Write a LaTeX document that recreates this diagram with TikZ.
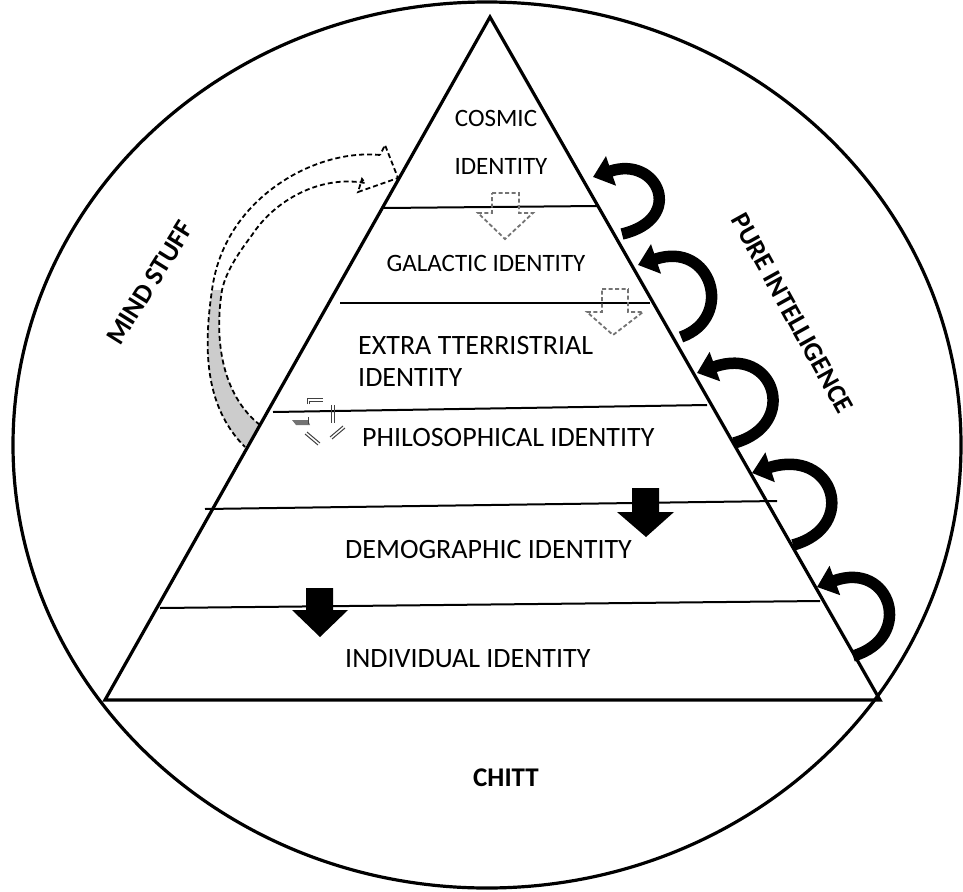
\documentclass[tikz,border=0pt]{standalone}
\usepackage{fontspec}
\setmainfont{Carlito}
\usetikzlibrary{arrows.meta}
\begin{document}
\begin{tikzpicture}[x=1pt,y=-1pt,
  edge/.style={line width=3.2pt},
  tier/.style={line width=2pt},
  lbl/.style={font=\fontsize{28}{30}\selectfont, inner sep=0pt},
  lbltop/.style={font=\fontsize{25}{27}\selectfont, inner sep=0pt},
  boldlbl/.style={font=\fontsize{27}{29}\selectfont\bfseries, inner sep=0pt},
  curv/.style={line width=11.5pt, -{Triangle[width=30pt,length=19pt]}},
  dsh/.style={draw=black!55, line width=1.8pt, dash pattern=on 4pt off 2.5pt},
  bigdash/.style={draw=black, line width=1.8pt, dash pattern=on 5pt off 3pt},
  frag/.style={draw=black!75, line width=1pt}
]
\useasboundingbox (0,0) rectangle (963,891);
\fill[white] (0,0) rectangle (963,891);

% outer circle
\draw[edge] (487,445) ellipse [x radius=474, y radius=443];

% big dashed curved arrow (left)
\fill[black!20] (212,290) .. controls (204,345) and (203,405) .. (245,447) -- (260,425)
  .. controls (222,395) and (214,340) .. (222,290) -- cycle;
\draw[bigdash] (380,155) .. controls (330,150) and (268,178) .. (235,228)
  .. controls (222,248) and (215,268) .. (212,290)
  .. controls (204,345) and (203,405) .. (245,447);
\draw[bigdash] (260,425) .. controls (222,395) and (214,340) .. (222,290)
  .. controls (226,272) and (237,255) .. (252,235)
  .. controls (275,200) and (320,175) .. (365,183)
  -- (362,179) -- (358,192) -- (398,178) -- (385,145) -- (380,155);

% pyramid
\coordinate (apex) at (490,17);
\coordinate (bl) at (105,700);
\coordinate (br) at (880,700);
\draw[edge, line join=miter] (bl) -- (apex) -- (br) -- cycle;

% tier lines
\draw[tier] (384,208) -- (597,206);
\draw[tier] (340,303) -- (650,303);
\draw[tier] (273,412) -- (707,405);
\draw[tier] (205,509) -- (777,501);
\draw[tier] (160,608) -- (820,601);

% labels
\node[lbltop] (cosmic) at (496,118) {COSMIC};
\node[lbltop] (cid) at (501,166) {IDENTITY};
\node[lbltop] (gal) at (486,263) {GALACTIC IDENTITY};
\node[lbl, anchor=west] (extra) at (358,346) {EXTRA TTERRISTRIAL};
\node[lbl, anchor=west] (eid) at (358,378) {IDENTITY};
\node[lbl, anchor=west] (phil) at (362,438) {PHILOSOPHICAL IDENTITY};
\node[lbl, anchor=west] (demo) at (345,550) {DEMOGRAPHIC IDENTITY};
\node[lbl, anchor=west] (indiv) at (345,659) {INDIVIDUAL IDENTITY};
\node[boldlbl] (chitt) at (506,778) {CHITT};
\node[boldlbl, rotate=58] (mind) at (150,283) {MIND STUFF};
\node[boldlbl, rotate=-61] (pure) at (792,313) {PURE INTELLIGENCE};

% curved black arrows on the right edge
\draw[curv] (622,234) .. controls (686,219) and (658,155) .. (593,177);
\draw[curv] (681,337) .. controls (735,318) and (712,240) .. (638,265);
\draw[curv] (734,443) .. controls (800,425) and (775,345) .. (697,373);
\draw[curv] (793,545) .. controls (859,527) and (834,447) .. (752,473);
\draw[curv] (853,656) .. controls (915,638) and (891,560) .. (817,587);

% dashed down arrows
\draw[dsh] (492,193) -- (519,193) -- (519,213) -- (533,213) -- (505,239) -- (478,213) -- (492,213) -- cycle;
\draw[dsh] (602,289) -- (628,289) -- (628,312) -- (643,312) -- (613,335) -- (587,312) -- (602,312) -- cycle;

% black down arrows
\fill (632,488) -- (659,488) -- (659,512) -- (674,512) -- (646,537) -- (617,512) -- (632,512) -- cycle;
\fill (306,588) -- (333,588) -- (333,610) -- (348,610) -- (320,637) -- (292,610) -- (306,610) -- cycle;

% fragments near philosophical
\draw[frag] (307,404) -- (307,398) -- (323,398);
\draw[frag] (309,404) -- (309,401) -- (323,401);
\draw[frag] (331,405) -- (331,423);
\draw[frag] (334,405) -- (334,423);
\fill[black!55] (292,420) -- (308,420) -- (310,425) -- (296,425) -- cycle;
\draw[frag] (308,417) -- (308,424);
\draw[frag] (307,432) -- (320,443);
\draw[frag] (305,434) -- (318,445);
\draw[frag] (330,437) -- (343,426);
\draw[frag] (332,439) -- (345,428);
\end{tikzpicture}
\end{document}
